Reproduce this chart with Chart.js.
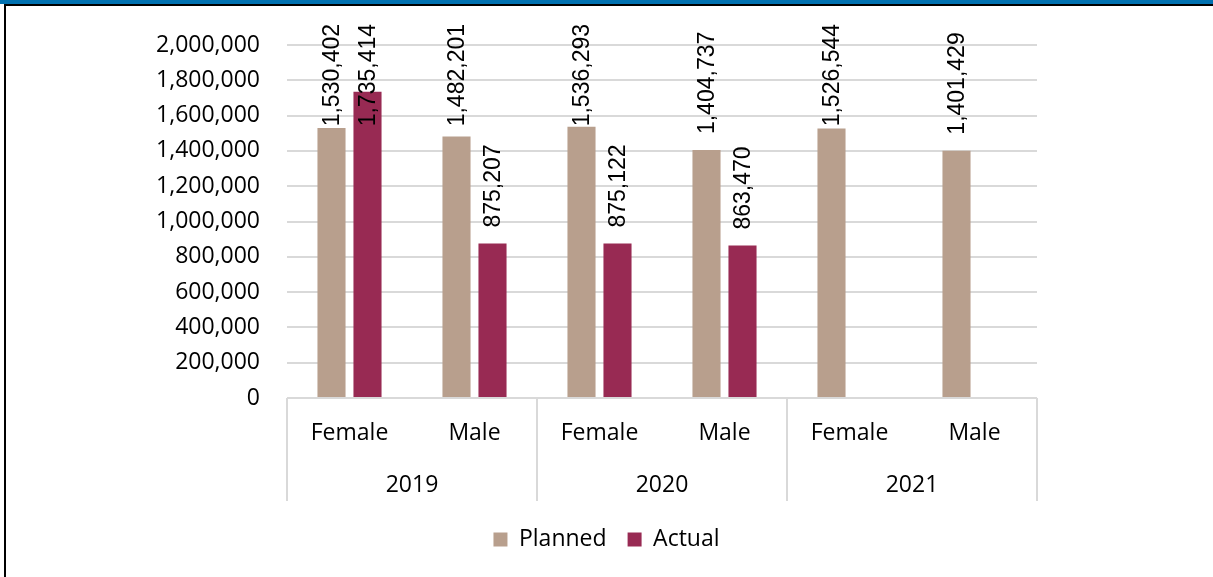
<!DOCTYPE html>
<html>
<head>
<meta charset="utf-8">
<script src="https://cdn.jsdelivr.net/npm/chart.js@4/dist/chart.umd.min.js"></script>
<style>
  body { margin: 0; background: #fff; }
  .frame { position: relative; width: 1213px; height: 577px; overflow: hidden; }
  .bar-top { position: absolute; left: 0; top: 0; width: 1213px; height: 4px; background: #0071b0; }
  .line-top { position: absolute; left: 4px; top: 4px; width: 1209px; height: 2px; background: #000; }
  .line-left { position: absolute; left: 4px; top: 4px; width: 2px; height: 573px; background: #000; }
  canvas { position: absolute; left: 0; top: 0; }
</style>
</head>
<body>
<div class="frame">
  <canvas id="genderChart" width="1213" height="577"></canvas>
  <div class="bar-top"></div>
  <div class="line-top"></div>
  <div class="line-left"></div>
</div>
<script>
// Planned vs actual, by year and gender
const years = ['2019', '2020', '2021'];
const genders = ['Female', 'Male'];
const planned = [1530402, 1482201, 1536293, 1404737, 1526544, 1401429];
const actual = [1735414, 875207, 875122, 863470, null, null];
const yMax = 2000000;
const yStep = 200000;

const fmt = v => v.toLocaleString('en-US');

// one flat category per year/gender pair
const labels = [];
years.forEach(y => genders.forEach(g => labels.push(g)));

// rotated value labels above each bar, kept below the top edge
const barLabels = {
    id: 'barLabels',
    afterDatasetsDraw(chart) {
        const ctx = chart.ctx;
        const top = chart.chartArea.top - 21;
        ctx.save();
        ctx.font = '23px "Liberation Sans"';
        ctx.fillStyle = '#000';
        ctx.textAlign = 'left';
        ctx.textBaseline = 'middle';
        chart.data.datasets.forEach((ds, i) => {
            chart.getDatasetMeta(i).data.forEach((bar, j) => {
                const v = ds.data[j];
                if (v == null) return;
                const text = fmt(v);
                const w = ctx.measureText(text).width;
                const y = Math.max(bar.y - 16, top + w);
                ctx.save();
                ctx.translate(bar.x + 1, y);
                ctx.rotate(-Math.PI / 2);
                ctx.fillText(text, 0, 0);
                ctx.restore();
            });
        });
        ctx.restore();
    }
};

// two-level category axis: gender row, year row, group separators
const groupAxis = {
    id: 'groupAxis',
    afterDraw(chart) {
        const ctx = chart.ctx;
        const xs = chart.scales.x;
        const area = chart.chartArea;
        const base = area.bottom;
        const per = genders.length;
        const edge = i => {
            if (i <= 0) return area.left;
            if (i >= labels.length) return area.right;
            return (xs.getPixelForValue(i - 1) + xs.getPixelForValue(i)) / 2;
        };
        ctx.save();
        ctx.strokeStyle = '#d9d9d9';
        ctx.lineWidth = 2;
        for (let g = 0; g <= years.length; g++) {
            const x = Math.round(edge(g * per));
            ctx.beginPath();
            ctx.moveTo(x, base);
            ctx.lineTo(x, base + 103);
            ctx.stroke();
        }
        ctx.fillStyle = '#000';
        ctx.font = '23px "Open Sans"';
        ctx.textAlign = 'center';
        ctx.textBaseline = 'middle';
        labels.forEach((l, i) => {
            ctx.fillText(l, xs.getPixelForValue(i), base + 35);
        });
        years.forEach((y, g) => {
            const cx = (edge(g * per) + edge((g + 1) * per)) / 2;
            ctx.fillText(y, cx, base + 87);
        });
        ctx.restore();
    }
};

Chart.defaults.font.family = '"Open Sans"';
Chart.defaults.font.size = 23;
Chart.defaults.color = '#000';

const ctx = document.getElementById('genderChart').getContext('2d');
const genderChart = new Chart(ctx, {
    type: 'bar',
    data: {
        labels: labels,
        datasets: [{
            label: 'Planned',
            data: planned,
            backgroundColor: '#b89f8d',
            borderWidth: 0,
            categoryPercentage: 0.576,
            barPercentage: 0.78
        }, {
            label: 'Actual',
            data: actual,
            backgroundColor: '#982a53',
            borderWidth: 0,
            categoryPercentage: 0.576,
            barPercentage: 0.78
        }]
    },
    options: {
        responsive: false,
        devicePixelRatio: 1,
        animation: false,
        layout: {
            padding: { top: 45, left: 20, right: 20, bottom: 16 }
        },
        plugins: {
            legend: {
                position: 'bottom',
                labels: {
                    boxWidth: 14,
                    boxHeight: 14,
                    padding: 21,
                    font: { size: 23 }
                }
            },
            tooltip: { enabled: false }
        },
        scales: {
            x: {
                ticks: { display: false },
                grid: { display: false },
                border: { display: false },
                afterFit(scale) { scale.height = 109; }
            },
            y: {
                min: 0,
                max: yMax,
                ticks: {
                    stepSize: yStep,
                    padding: 27,
                    callback: v => fmt(v)
                },
                grid: {
                    color: '#d9d9d9',
                    lineWidth: 2,
                    drawTicks: false
                },
                border: { display: false },
                afterFit(scale) { scale.width = 267; }
            },
            // empty right-hand spacer so the plot sits left of centre
            spacer: {
                type: 'linear',
                position: 'right',
                ticks: { display: false },
                grid: { display: false },
                border: { display: false },
                afterFit(scale) { scale.width = 156; }
            }
        }
    },
    plugins: [barLabels, groupAxis]
});
</script>
</body>
</html>
